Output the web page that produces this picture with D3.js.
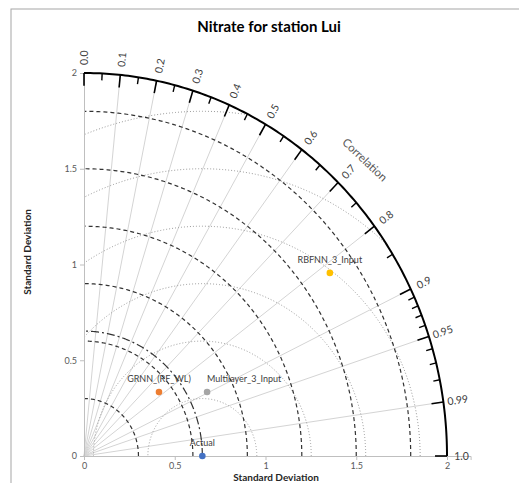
<!DOCTYPE html>
<html>
<head>
<meta charset="utf-8">
<script src="https://cdn.jsdelivr.net/npm/d3@7"></script>
<style>
  body { margin: 0; background: #fff; }
  svg { display: block; font-family: Lato, "Open Sans", sans-serif; }
</style>
</head>
<body>
<div id="chart"></div>
<script>
// chart values
const models = ['Actual', 'GRNN_(RF_WL)', 'Multilayer_3_Input', 'RBFNN_3_Input'];
const stdDev = [0.652, 0.531, 0.756, 1.658];
const corr = [1.0, 0.778, 0.897, 0.817];
const colors = ['#4472c4', '#ed7d31', '#a5a5a5', '#ffc000'];

const corrMajor = [0.0, 0.1, 0.2, 0.3, 0.4, 0.5, 0.6, 0.7, 0.8, 0.9, 0.95, 0.99, 1.0];
const corrLabels = ['0.0', '0.1', '0.2', '0.3', '0.4', '0.5', '0.6', '0.7', '0.8', '0.9', '0.95', '0.99', '1.0'];
const corrMinor = [0.05, 0.15, 0.25, 0.35, 0.45, 0.55, 0.65, 0.75, 0.85, 0.91, 0.92, 0.93, 0.94, 0.96, 0.97, 0.98];
const sdCircles = [0.3, 0.6, 0.9, 1.2, 1.5, 1.8];
const rmsCircles = [0.3, 0.6, 0.9, 1.2, 1.5, 1.8];
const sdTicks = [0, 0.5, 1, 1.5, 2];
const SD_MAX = 2;

const W = 519, H = 483;

const svg = d3.select('#chart').append('svg')
  .attr('width', W)
  .attr('height', H);

const x = d3.scaleLinear().domain([0, 2.13]).range([84, 470.6]);
const y = d3.scaleLinear().domain([0, 2]).range([456, 73]);
const sx = x(1) - x(0), sy = y(0) - y(1);

const polar = (r, c) => [x(r * c), y(r * Math.sqrt(Math.max(0, 1 - c * c)))];
const screenAngle = c => Math.atan2(sy * Math.sqrt(1 - c * c), sx * c) * 180 / Math.PI;
const line = d3.line().x(d => x(d[0])).y(d => y(d[1]));

// frame
svg.append('rect')
  .attr('x', 11).attr('y', 9)
  .attr('width', W).attr('height', H)
  .attr('fill', 'none')
  .attr('stroke', '#a6a6a6');

svg.append('text')
  .attr('x', 269).attr('y', 32)
  .attr('text-anchor', 'middle')
  .attr('font-size', 15).attr('font-weight', 'bold')
  .attr('fill', '#000')
  .text('Nitrate for station Lui');

// correlation rays
svg.selectAll('.ray')
  .data(corrMajor.filter(c => c > 0 && c < 1))
  .enter().append('line')
  .attr('x1', x(0)).attr('y1', y(0))
  .attr('x2', c => polar(SD_MAX, c)[0])
  .attr('y2', c => polar(SD_MAX, c)[1])
  .attr('stroke', '#d4d4d4')
  .attr('stroke-width', 1);

// centred RMS circles around the reference point
const ref = stdDev[0];
const N = 720;
rmsCircles.forEach(r => {
  const pts = d3.range(N + 1).map(i => {
    const a = Math.PI * i / N;
    return [ref + r * Math.cos(a), r * Math.sin(a)];
  });
  svg.append('path')
    .datum(pts)
    .attr('fill', 'none')
    .attr('stroke', '#9a9a9a')
    .attr('stroke-width', 1)
    .attr('stroke-dasharray', '1,2')
    .attr('d', line.defined(d => d[0] >= 0 && Math.hypot(d[0], d[1]) <= SD_MAX));
});
line.defined(() => true);

// std dev arcs
const quarter = r => d3.range(181).map(i => {
  const a = Math.PI / 2 * i / 180;
  return [r * Math.cos(a), r * Math.sin(a)];
});

svg.selectAll('.sd')
  .data(sdCircles)
  .enter().append('path')
  .attr('fill', 'none')
  .attr('stroke', '#333')
  .attr('stroke-width', 1.2)
  .attr('stroke-dasharray', '4,3')
  .attr('d', r => line(quarter(r)));

svg.append('path')
  .attr('fill', 'none')
  .attr('stroke', '#333')
  .attr('stroke-width', 1.2)
  .attr('stroke-dasharray', '8,3,2,3')
  .attr('d', line(quarter(ref)));

// axes
const xAxis = svg.append('g')
  .attr('transform', `translate(0,${y(0)})`)
  .call(d3.axisBottom(x).tickValues(sdTicks).tickSizeOuter(0).tickSize(4).tickFormat(d3.format('')));
const yAxis = svg.append('g')
  .attr('transform', `translate(${x(0)},0)`)
  .call(d3.axisLeft(y).tickValues(sdTicks).tickSizeOuter(0).tickSize(4).tickFormat(d3.format('')));

[xAxis, yAxis].forEach(g => {
  g.select('.domain').attr('stroke', '#bfbfbf');
  g.selectAll('.tick line').attr('stroke', '#bfbfbf');
  g.selectAll('.tick text')
    .attr('font-family', 'Lato, sans-serif')
    .attr('font-size', 9)
    .attr('fill', '#595959');
});
xAxis.selectAll('.tick text').attr('dy', '0.9em').attr('y', 5);
yAxis.selectAll('.tick text').attr('x', -7);

// outer arc
svg.append('path')
  .attr('fill', 'none')
  .attr('stroke', '#000')
  .attr('stroke-width', 2)
  .attr('d', line(quarter(SD_MAX)));

// correlation ticks
svg.selectAll('.major')
  .data(corrMajor)
  .enter().append('line')
  .attr('x1', c => polar(SD_MAX, c)[0])
  .attr('y1', c => polar(SD_MAX, c)[1])
  .attr('x2', c => polar(SD_MAX - 0.066, c)[0])
  .attr('y2', c => polar(SD_MAX - 0.066, c)[1])
  .attr('stroke', '#000')
  .attr('stroke-width', 1.6);

svg.selectAll('.minor')
  .data(corrMinor)
  .enter().append('line')
  .attr('x1', c => polar(SD_MAX, c)[0])
  .attr('y1', c => polar(SD_MAX, c)[1])
  .attr('x2', c => polar(SD_MAX - 0.036, c)[0])
  .attr('y2', c => polar(SD_MAX - 0.036, c)[1])
  .attr('stroke', '#000')
  .attr('stroke-width', 1.4);

svg.selectAll('.clab')
  .data(corrMajor)
  .enter().append('text')
  .attr('transform', c => {
    const p = polar(2.08, c);
    return `translate(${p[0]},${p[1]}) rotate(${-screenAngle(c)})`;
  })
  .attr('text-anchor', 'middle')
  .attr('dominant-baseline', 'central')
  .attr('font-size', 10.5)
  .attr('fill', '#404040')
  .text((c, i) => corrLabels[i]);

const cp = polar(2.19, Math.SQRT1_2);
svg.append('text')
  .attr('transform', `translate(${cp[0]},${cp[1]}) rotate(${90 - screenAngle(Math.SQRT1_2)})`)
  .attr('text-anchor', 'middle')
  .attr('dominant-baseline', 'central')
  .attr('font-size', 11.5)
  .attr('fill', '#595959')
  .text('Correlation');

// axis titles
svg.append('text')
  .attr('x', 276).attr('y', 481)
  .attr('text-anchor', 'middle')
  .attr('font-size', 10).attr('font-weight', 'bold')
  .attr('fill', '#262626')
  .text('Standard Deviation');
svg.append('text')
  .attr('transform', 'translate(31,252) rotate(-90)')
  .attr('text-anchor', 'middle')
  .attr('font-size', 10).attr('font-weight', 'bold')
  .attr('fill', '#262626')
  .text('Standard Deviation');

// model points
const labelAnchor = ['middle', 'middle', 'start', 'middle'];
const pts = models.map((m, i) => polar(stdDev[i], corr[i]));

svg.selectAll('.pt')
  .data(models)
  .enter().append('circle')
  .attr('cx', (m, i) => pts[i][0])
  .attr('cy', (m, i) => pts[i][1])
  .attr('r', 3.3)
  .attr('fill', (m, i) => colors[i]);

svg.selectAll('.plab')
  .data(models)
  .enter().append('text')
  .attr('x', (m, i) => pts[i][0])
  .attr('y', (m, i) => pts[i][1] - 10)
  .attr('text-anchor', (m, i) => labelAnchor[i])
  .attr('font-size', 9)
  .attr('fill', '#404040')
  .text(m => m);
</script>
</body>
</html>
